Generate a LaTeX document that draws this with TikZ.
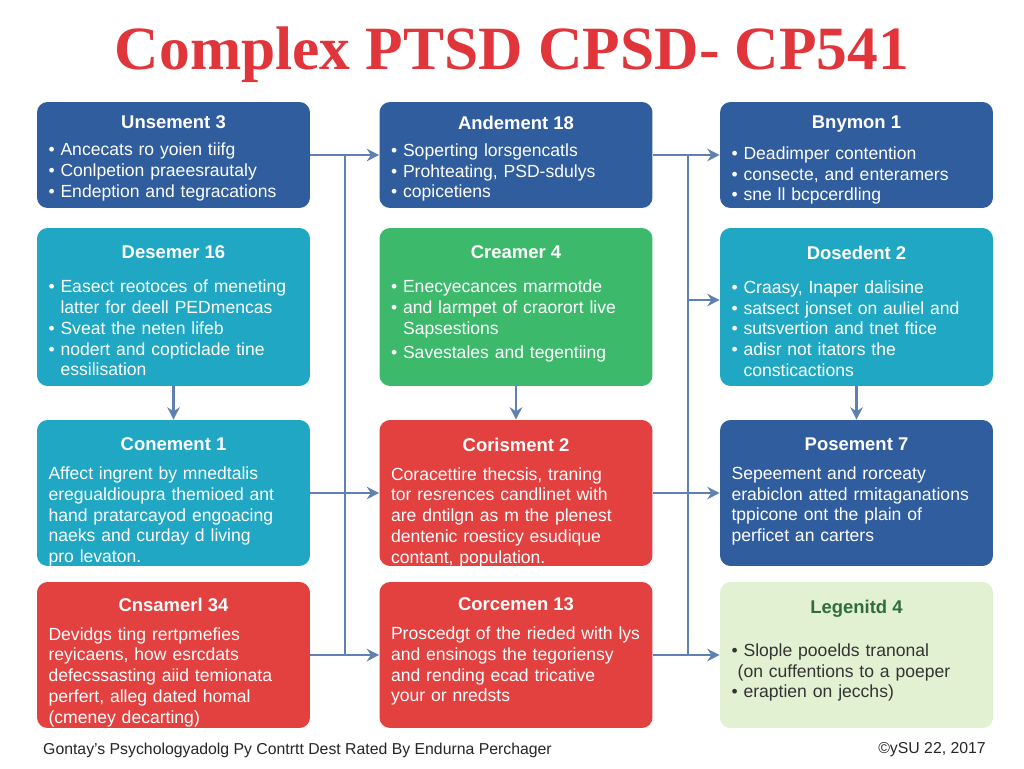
\documentclass[tikz,border=0pt]{standalone}
\usepackage{fontspec}
\setmainfont{Liberation Sans}
\newfontfamily\titlefont{Liberation Serif}
\usetikzlibrary{positioning,calc,arrows.meta}
\definecolor{cBlue}{HTML}{2F5D9E}
\definecolor{cTeal}{HTML}{1FA7C4}
\definecolor{cGreen}{HTML}{3DB96C}
\definecolor{cRed}{HTML}{E2413F}
\definecolor{cPale}{HTML}{E3F1D3}
\definecolor{cPaleText}{HTML}{2F6E3C}
\definecolor{cLink}{HTML}{5E80B2}
\definecolor{cTitle}{HTML}{E0353A}
\tikzset{
  box/.style={rectangle, rounded corners=6pt, draw=none, fill=#1,
    minimum width=5.46cm, inner sep=0pt},
  head/.style={font=\bfseries\fontsize{10.5}{12}\selectfont, text=white, anchor=north},
  body/.style={font=\fontsize{10}{11.8}\selectfont, text=white, align=left,
    text width=5.0cm, anchor=north},
  link/.style={cLink, line width=1.4pt, -{Stealth[length=7pt,width=7pt]}},
  bus/.style={cLink, line width=1.4pt},
}
\begin{document}
\begin{tikzpicture}[x=0.02cm,y=-0.02cm]
    \useasboundingbox[fill=white] (0,0) rectangle (1024,768);

    \node[font=\titlefont\bfseries\fontsize{35}{38}\selectfont, text=cTitle] (title) at (512,55) {Complex PTSD CPSD- CP541};

    % boxes
    \node[box=cBlue, minimum height=2.12cm] (b1) at (173.5,155) {};
    \node[box=cBlue, minimum height=2.12cm] (b2) at (516,155) {};
    \node[box=cBlue, minimum height=2.12cm] (b3) at (856.5,155) {};
    \node[box=cTeal, minimum height=3.16cm] (b4) at (173.5,307) {};
    \node[box=cGreen, minimum height=3.16cm] (b5) at (516,307) {};
    \node[box=cTeal, minimum height=3.16cm] (b6) at (856.5,307) {};
    \node[box=cTeal, minimum height=2.92cm] (b7) at (173.5,493) {};
    \node[box=cRed, minimum height=2.92cm] (b8) at (516,493) {};
    \node[box=cBlue, minimum height=2.92cm] (b9) at (856.5,493) {};
    \node[box=cRed, minimum height=2.92cm] (b10) at (173.5,655) {};
    \node[box=cRed, minimum height=2.92cm] (b11) at (516,655) {};
    \node[box=cPale, minimum height=2.92cm] (b12) at (856.5,655) {};

    % row 1
    \node[head] (h1) at ($(b1.north)+(0,8)$) {Unsement 3};
    \node[body, below=1pt of h1] {• Ancecats ro yoien tiifg\\• Conlpetion praeesrautaly\\• Endeption and tegracations};
    \node[head] (h2) at ($(b2.north)+(0,8)$) {Andement 18};
    \node[body, below=1pt of h2] {• Soperting lorsgencatls\\• Prohteating, PSD-sdulys\\• copicetiens};
    \node[head] (h3) at ($(b3.north)+(0,8)$) {Bnymon 1};
    \node[body, below=1pt of h3] {• Deadimper contention\\• consecte, and enteramers\\• sne ll bcpcerdling};

    % row 2
    \node[head] (h4) at ($(b4.north)+(0,12)$) {Desemer 16};
    \node[body, below=5pt of h4] {• Easect reotoces of meneting\\\phantom{• }latter for deell PEDmencas\\• Sveat the neten lifeb\\• nodert and copticlade tine\\\phantom{• }essilisation};
    \node[head] (h5) at ($(b5.north)+(0,12)$) {Creamer 4};
    \node[body, below=5pt of h5] {• Enecyecances marmotde\\• and larmpet of craorort live\\\phantom{• }Sapsestions\\[2pt]• Savestales and tegentiing};
    \node[head] (h6) at ($(b6.north)+(0,12)$) {Dosedent 2};
    \node[body, below=5pt of h6] {• Craasy, Inaper dalisine\\• satsect jonset on auliel and\\• sutsvertion and tnet ftice\\• adisr not itators the\\\phantom{• }consticactions};

    % row 3
    \node[head] (h7) at ($(b7.north)+(0,12)$) {Conement 1};
    \node[body, below=2pt of h7] {Affect ingrent by mnedtalis\\eregualdioupra themioed ant\\hand pratarcayod engoacing\\naeks and curday d living\\pro levaton.};
    \node[head] (h8) at ($(b8.north)+(0,12)$) {Corisment 2};
    \node[body, below=2pt of h8] {Coracettire thecsis, traning\\tor resrences candlinet with\\are dntilgn as m the plenest\\dentenic roesticy esudique\\contant, population.};
    \node[head] (h9) at ($(b9.north)+(0,12)$) {Posement 7};
    \node[body, below=2pt of h9] {Sepeement and rorceaty\\erabiclon atted rmitaganations\\tppicone ont the plain of\\perficet an carters};

    % row 4
    \node[head] (h10) at ($(b10.north)+(0,10)$) {Cnsamerl 34};
    \node[body, below=2pt of h10] {Devidgs ting rertpmefies\\reyicaens, how esrcdats\\defecssasting aiid temionata\\perfert, alleg dated homal\\(cmeney decarting)};
    \node[head] (h11) at ($(b11.north)+(0,10)$) {Corcemen 13};
    \node[body, below=2pt of h11] {Proscedgt of the rieded with lys\\and ensinogs the tegoriensy\\and rending ecad tricative\\your or nredsts};
    \node[head, text=cPaleText] (h12) at ($(b12.north)+(0,12)$) {Legenitd 4};
    \node[body, text=black!80, below=8pt of h12] {• Slople pooelds tranonal\\\phantom{•}(on cuffentions to a poeper\\• eraptien on jecchs)};

    % connectors
    \coordinate (busL1) at (345,155);
    \coordinate (busL2) at (345,655);
    \coordinate (busR1) at (688,155);
    \coordinate (busR2) at (688,655);
    \coordinate (busR3) at (688,300);
    \draw[bus] (busL1) -- (busL2);
    \draw[bus] (busR1) -- (busR2);
    \draw[link] (b1.east) -- (b2.west);
    \draw[link] (b2.east) -- (b3.west);
    \draw[link] (b7.east) -- (b8.west);
    \draw[link] (b8.east) -- (b9.west);
    \draw[link] (b10.east) -- (b11.west);
    \draw[link] (b11.east) -- (b12.west);
    \draw[link] (busR3) -- (b6.west |- busR3);
    \draw[link] (b4.south) -- (b7.north);
    \draw[link] (b5.south) -- (b8.north);
    \draw[link] (b6.south) -- (b9.north);

    % footer
    \node[anchor=west, font=\fontsize{9}{11}\selectfont, text=black!85] (foot) at (37,750) {Gontay's Psychologyadolg Py Contrtt Dest Rated By Endurna Perchager};
    \node[anchor=east, font=\fontsize{9}{11}\selectfont, text=black!85] (copy) at (992,750) {©ySU 22, 2017};
\end{tikzpicture}
\end{document}
